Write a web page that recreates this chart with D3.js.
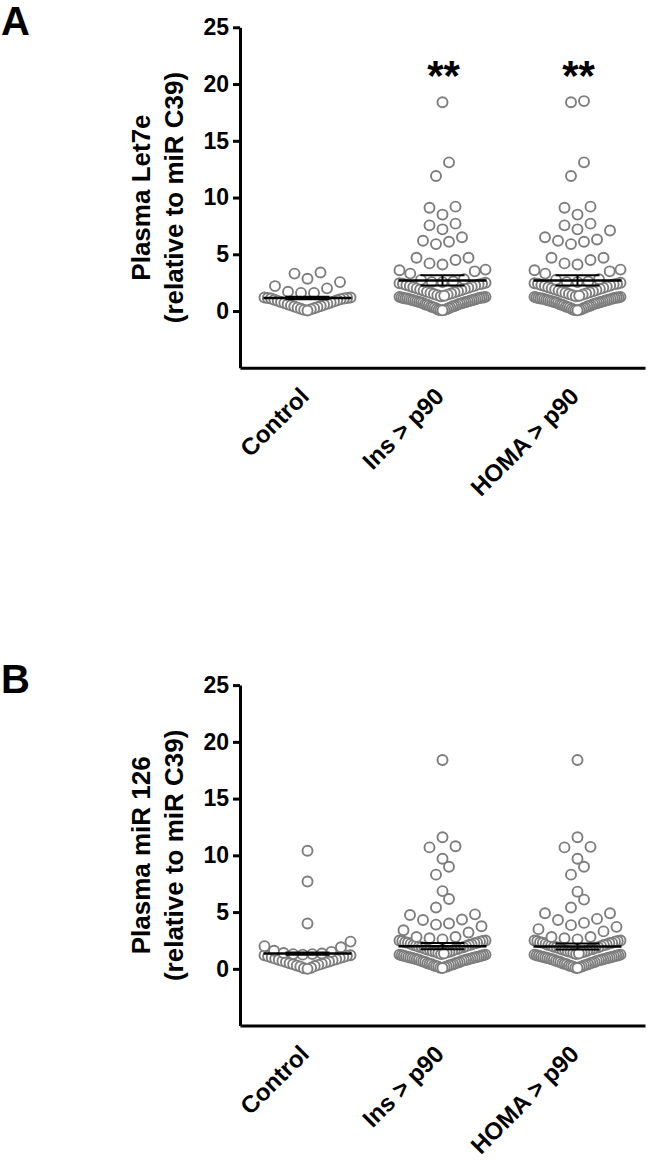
<!DOCTYPE html>
<html>
<head>
<meta charset="utf-8">
<script src="https://cdn.jsdelivr.net/npm/d3@7"></script>
<style>
  body { margin: 0; background: #fff; }
  svg { display: block; }
  text { font-family: "Liberation Sans", Arial, sans-serif; font-weight: bold; }
</style>
</head>
<body>
<svg id="chart" width="650" height="1162"></svg>
<script>
// groups on the x axis
const groups = ['Control', 'Ins > p90', 'HOMA > p90'];
const yTicks = [0, 5, 10, 15, 20, 25];

// panel A - Let7e values
const let7eControl = [3.3, 3.4, 2.85, 2.55, 2.2, 2.0, 1.7, 1.6, 1.6,
  1.2, 1.2, 1.15, 1.15, 1.1, 1.1, 1.05, 1.0, 0.95, 0.9, 0.85, 0.8, 0.75, 0.7, 0.65, 0.6,
  0.55, 0.5, 0.45, 0.4, 0.35, 0.3, 0.25, 0.2, 0.15, 0.1, 0.05];
const let7eIns = [18.4, 13.1, 11.9, 9.1, 9.2, 8.5, 7.7, 7.55, 7.2, 6.5, 6.2, 6.1, 5.9,
  4.7, 4.7, 4.5, 4.2, 4.1, 3.65, 3.6, 3.5, 3.3, 2.8, 2.75, 2.6, 2.55, 2.55,
  2.5, 2.45, 2.4, 2.4, 2.35, 2.3, 2.25, 2.2, 2.15, 2.1, 2.05, 2.0, 1.95, 1.9, 1.85, 1.8,
  1.75, 1.7, 1.65, 1.6, 1.55, 1.5, 1.45, 1.4, 1.35, 1.3,
  1.25, 1.25, 1.2, 1.2, 1.2, 1.15, 1.15, 1.1, 1.1, 1.1, 1.05, 1.05, 1.0, 1.0, 0.95, 0.95,
  0.9, 0.9, 0.85, 0.85, 0.8, 0.8, 0.75, 0.75, 0.7, 0.7, 0.65, 0.6, 0.6, 0.55, 0.5, 0.5,
  0.45, 0.4, 0.4, 0.35, 0.3, 0.3, 0.25, 0.2, 0.15, 0.12, 0.1, 0.08, 0.06];
const let7eHoma = [18.5, 18.4, 13.1, 11.9, 9.2, 9.1, 8.5, 7.7, 7.55, 7.2, 7.1, 6.5, 6.3, 6.2, 6.1, 5.9,
  4.7, 4.7, 4.5, 4.2, 4.1, 3.65, 3.6, 3.5, 3.3, 2.8, 2.75, 2.6, 2.55, 2.55,
  2.5, 2.45, 2.4, 2.4, 2.35, 2.3, 2.25, 2.2, 2.15, 2.1, 2.05, 2.0, 1.95, 1.9, 1.85, 1.8,
  1.75, 1.7, 1.65, 1.6, 1.55, 1.5, 1.45, 1.4, 1.35, 1.3,
  1.25, 1.25, 1.2, 1.2, 1.2, 1.15, 1.15, 1.1, 1.1, 1.1, 1.05, 1.05, 1.0, 1.0, 0.95, 0.95,
  0.9, 0.9, 0.85, 0.85, 0.8, 0.8, 0.75, 0.75, 0.7, 0.7, 0.65, 0.6, 0.6, 0.55, 0.5, 0.5,
  0.45, 0.4, 0.4, 0.35, 0.3, 0.3, 0.25, 0.2, 0.15, 0.12, 0.1, 0.08, 0.06];
const let7eMean = [1.15, 2.7, 2.7];
const let7eSem = [0.1, 0.45, 0.45];
const let7eStars = ['', '**', '**'];

// panel B - miR 126 values
const mir126Control = [10.4, 7.7, 4.0, 2.4, 2.0, 1.9, 1.6, 1.5,
  1.4, 1.35, 1.3, 1.3, 1.25, 1.2, 1.2, 1.15, 1.1, 1.05, 1.0, 0.95, 0.9, 0.85, 0.8, 0.75, 0.7,
  0.65, 0.6, 0.55, 0.5, 0.45, 0.4, 0.35, 0.3, 0.25, 0.2, 0.1, 0.05, 0.0];
const mir126Ins = [18.4, 11.6, 10.8, 10.7, 9.7, 9.0, 8.3, 6.85, 6.15, 5.4, 4.8, 4.75, 4.35, 4.3,
  4.0, 3.9, 3.75, 3.4, 3.2, 2.8, 2.8, 2.7, 2.6,
  2.5, 2.5, 2.45, 2.45, 2.4, 2.35, 2.3, 2.3, 2.25, 2.2, 2.15, 2.1, 2.1, 2.05, 2.0, 1.95,
  1.9, 1.9, 1.85, 1.8, 1.75, 1.7, 1.7, 1.65, 1.6, 1.55, 1.5, 1.5, 1.45, 1.4, 1.35, 1.3,
  1.25, 1.25, 1.2, 1.2, 1.15, 1.15, 1.1, 1.1, 1.05, 1.05, 1.0, 1.0, 0.95, 0.95, 0.9, 0.9,
  0.85, 0.85, 0.8, 0.8, 0.75, 0.7, 0.7, 0.65, 0.6, 0.6, 0.55, 0.5, 0.5, 0.45, 0.4, 0.4,
  0.35, 0.3, 0.3, 0.25, 0.2, 0.2, 0.15, 0.1, 0.07];
const mir126Homa = [18.4, 11.6, 10.75, 10.7, 9.7, 9.0, 8.3, 6.8, 6.1, 5.4, 4.9, 4.9, 4.4, 4.3,
  4.05, 3.85, 3.7, 3.5, 3.3, 2.8, 2.8, 2.7, 2.6,
  2.5, 2.5, 2.45, 2.45, 2.4, 2.35, 2.3, 2.3, 2.25, 2.2, 2.15, 2.1, 2.1, 2.05, 2.0, 1.95,
  1.9, 1.9, 1.85, 1.8, 1.75, 1.7, 1.7, 1.65, 1.6, 1.55, 1.5, 1.5, 1.45, 1.4, 1.35, 1.3,
  1.25, 1.25, 1.2, 1.2, 1.15, 1.15, 1.1, 1.1, 1.05, 1.05, 1.0, 1.0, 0.95, 0.95, 0.9, 0.9,
  0.85, 0.85, 0.8, 0.8, 0.75, 0.7, 0.7, 0.65, 0.6, 0.6, 0.55, 0.5, 0.5, 0.45, 0.4, 0.4,
  0.35, 0.3, 0.3, 0.25, 0.2, 0.2, 0.15, 0.1, 0.07];
const mir126Mean = [1.35, 2.0, 1.97];
const mir126Sem = [0.1, 0.27, 0.27];
const mir126Stars = ['', '', ''];

const svg = d3.select('#chart');
const dotGray = '#7d7d7d';

// spread the points of one group into rows, lowest value in the middle
function swarm(values) {
  const binH = 1.22, gap = 13, maxW = 86;
  const sorted = values.slice().sort(d3.ascending);
  const rows = [];
  let cur = null;
  sorted.forEach(v => {
    if (!cur || v - cur[0] > binH) { cur = [v]; rows.push(cur); }
    else cur.push(v);
  });
  const pts = [];
  rows.forEach(row => {
    const n = row.length;
    const s = n > 1 ? Math.min(gap, maxW / (n - 1)) : 0;
    const slots = d3.range(n).map(i => (i - (n - 1) / 2) * s)
      .sort((a, b) => Math.abs(a) - Math.abs(b) || a - b);
    const rowPts = row.map((v, i) => ({ v: v, dx: slots[i] }));
    // outer ones first, centre on top
    rowPts.sort((a, b) => Math.abs(b.dx) - Math.abs(a.dx));
    pts.push(...rowPts);
  });
  return pts;
}

function panel(top, letter, title, series, means, sems, stars) {
  const y = d3.scaleLinear().domain([-5, 25]).range([top + 340.5, top]);
  const x = d3.scaleBand().domain(groups).range([240, 645]);
  const g = svg.append('g');

  g.append('text')
    .attr('x', 1).attr('y', top + 8)
    .style('font-size', '40px')
    .text(letter);

  // y axis
  const yAxis = g.append('g')
    .attr('transform', 'translate(240,0)')
    .call(d3.axisLeft(y).tickValues(yTicks).tickSize(7).tickSizeOuter(0).tickPadding(4));
  yAxis.select('.domain').attr('stroke-width', 3);
  yAxis.selectAll('.tick line').attr('stroke-width', 3);
  yAxis.selectAll('.tick text').style('font-size', '23px').attr('fill', '#000');

  // x axis
  const xAxis = g.append('g')
    .attr('transform', `translate(0,${y(-5)})`)
    .call(d3.axisBottom(x).tickSize(0).tickSizeOuter(0));
  xAxis.select('.domain').attr('stroke-width', 3);
  xAxis.selectAll('.tick text')
    .style('font-size', '24px')
    .attr('fill', '#000')
    .attr('text-anchor', 'end')
    .attr('y', 0).attr('dy', 0)
    .attr('transform', 'translate(3,30) rotate(-45)');

  // axis title
  const midY = (y(25) + y(-5)) / 2;
  title.forEach((t, i) => {
    g.append('text')
      .attr('transform', `translate(${150 + i * 33},${midY}) rotate(-90)`)
      .attr('text-anchor', 'middle')
      .style('font-size', '26px')
      .text(t);
  });

  // dots
  series.forEach((vals, gi) => {
    const cx = x(groups[gi]) + x.bandwidth() / 2;
    g.append('g').selectAll('circle')
      .data(swarm(vals))
      .join('circle')
      .attr('cx', d => cx + d.dx)
      .attr('cy', d => y(d.v))
      .attr('r', 5)
      .attr('fill', '#fff')
      .attr('stroke', dotGray)
      .attr('stroke-width', 1.9);
  });

  // mean and SEM
  groups.forEach((grp, gi) => {
    const cx = x(grp) + x.bandwidth() / 2;
    const m = means[gi], s = sems[gi];
    const eg = g.append('g').attr('stroke', '#000');
    eg.append('line').attr('x1', cx - 44).attr('x2', cx + 44)
      .attr('y1', y(m)).attr('y2', y(m)).attr('stroke-width', 2.5);
    eg.append('line').attr('x1', cx).attr('x2', cx)
      .attr('y1', y(m + s)).attr('y2', y(m - s)).attr('stroke-width', 2);
    [m + s, m - s].forEach(v => {
      eg.append('line').attr('x1', cx - 22).attr('x2', cx + 22)
        .attr('y1', y(v)).attr('y2', y(v)).attr('stroke-width', 2);
    });
    if (stars[gi]) {
      g.append('text')
        .attr('x', cx + 1).attr('y', top + 63)
        .attr('text-anchor', 'middle')
        .style('font-size', '42px')
        .text(stars[gi]);
    }
  });
}

panel(27.3, 'A', ['Plasma Let7e', '(relative to miR C39)'],
  [let7eControl, let7eIns, let7eHoma], let7eMean, let7eSem, let7eStars);
panel(685.1, 'B', ['Plasma miR 126', '(relative to miR C39)'],
  [mir126Control, mir126Ins, mir126Homa], mir126Mean, mir126Sem, mir126Stars);
</script>
</body>
</html>
